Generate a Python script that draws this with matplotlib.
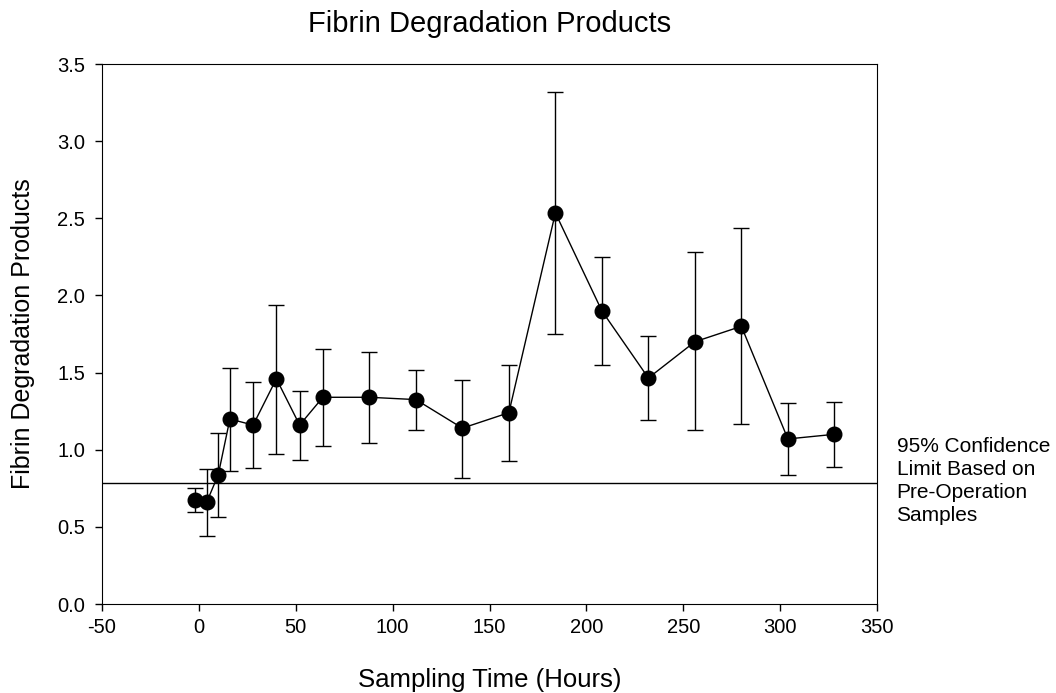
import matplotlib
matplotlib.use("Agg")
import matplotlib.pyplot as plt

plt.rcParams['font.family'] = ['Liberation Sans', 'DejaVu Sans']
plt.rcParams['axes.unicode_minus'] = False

# sampling time (hours) and fibrin degradation products
hours = [-2, 4, 10, 16, 28, 40, 52, 64, 88, 112, 136, 160, 184, 208, 232, 256, 280, 304, 328]
fdp = [0.674, 0.659, 0.838, 1.199, 1.16, 1.46, 1.16, 1.34, 1.34, 1.325, 1.14, 1.24,
       2.535, 1.90, 1.465, 1.70, 1.80, 1.07, 1.10]
upper = [0.754, 0.875, 1.11, 1.53, 1.44, 1.94, 1.38, 1.65, 1.635, 1.52, 1.455, 1.55,
         3.32, 2.25, 1.74, 2.28, 2.435, 1.30, 1.31]
lower = [0.594, 0.443, 0.566, 0.864, 0.88, 0.974, 0.935, 1.026, 1.045, 1.13, 0.82, 0.93,
         1.75, 1.55, 1.195, 1.125, 1.165, 0.835, 0.89]
conf_limit = 0.785

err_lo = [v - l for v, l in zip(fdp, lower)]
err_hi = [u - v for v, u in zip(fdp, upper)]

fig = plt.figure(figsize=(10.56, 6.93), dpi=100)
ax = fig.add_axes([0.0966, 0.1284, 0.7339, 0.7792])

ax.axhline(conf_limit, color='black', lw=1)
ax.errorbar(hours, fdp, yerr=[err_lo, err_hi], fmt='o-', color='black',
            ecolor='black', elinewidth=1, lw=1, ms=10.5, capsize=6, capthick=1)

ax.set_xlim(-50, 350)
ax.set_ylim(0, 3.5)
ax.set_xticks(range(-50, 351, 50))
ax.set_yticks([0, 0.5, 1.0, 1.5, 2.0, 2.5, 3.0, 3.5])
ax.set_yticklabels(['0.0', '0.5', '1.0', '1.5', '2.0', '2.5', '3.0', '3.5'])
ax.tick_params(direction='out', length=5, width=1, labelsize=14.5, top=False, right=False)
ax.tick_params(axis='x', pad=5)
ax.tick_params(axis='y', pad=7)

fig.text(0.4636, 0.954, 'Fibrin Degradation Products', fontsize=21,
         ha='center', va='baseline')
fig.text(0.4636, 0.009, 'Sampling Time (Hours)', fontsize=18.5,
         ha='center', va='baseline')
fig.text(0.0284, 0.518, 'Fibrin Degradation Products', fontsize=18,
         rotation=90, rotation_mode='anchor', ha='center', va='baseline')

fig.text(0.849, 0.369, '95% Confidence\nLimit Based on\nPre-Operation\nSamples',
         fontsize=15, va='top', ha='left', linespacing=1.27)

fig.savefig('out.png', dpi=100)
